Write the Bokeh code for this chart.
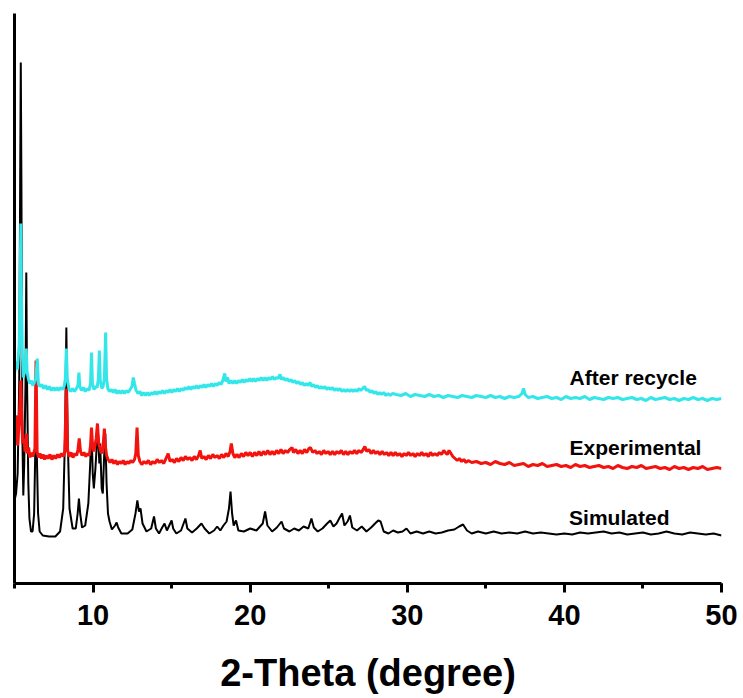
from bokeh.plotting import figure
from bokeh.models import SingleIntervalTicker, FixedTicker, Range1d, ColumnDataSource
from bokeh.core.properties import value
from bokeh.embed import file_html
from bokeh.resources import INLINE

# ---------------- data (2-theta in degrees, intensity in arbitrary units, offset per trace) ----------------
sim_x = [5.0, 5.1, 5.2, 5.3, 5.36, 5.4, 5.44, 5.5, 5.56, 5.62, 5.7, 5.75, 5.8, 5.88, 5.95, 6.05, 6.15, 6.25,
         6.32, 6.37, 6.42, 6.5, 6.6, 6.8, 7.2, 7.6, 7.9, 8.1, 8.22, 8.3, 8.38, 8.5, 8.7, 8.9, 9.02, 9.1, 9.18,
         9.3, 9.5, 9.7, 9.82, 9.9, 9.98, 10.05, 10.15, 10.3, 10.4, 10.45, 10.55, 10.62, 10.7, 10.78, 10.86,
         10.95, 11.05, 11.2, 11.4, 11.5, 11.6, 11.8, 12.2, 12.5, 12.7, 12.82, 12.92, 13.02, 13.15, 13.4, 13.7,
         13.88, 14.0, 14.2, 14.4, 14.55, 14.7, 14.85, 15.0, 15.1, 15.3, 15.6, 15.88, 16.0, 16.3, 16.6, 16.9,
         17.1, 17.4, 17.7, 17.9, 18.1, 18.3, 18.5, 18.65, 18.75, 18.85, 18.95, 19.1, 19.25, 19.6, 20.0, 20.4,
         20.8, 20.95, 21.1, 21.4, 21.7, 22.0, 22.15, 22.5, 22.8, 23.1, 23.4, 23.7, 23.9, 24.05, 24.3, 24.6,
         24.9, 25.1, 25.3, 25.5, 25.7, 25.85, 26.0, 26.2, 26.35, 26.5, 26.8, 27.1, 27.4, 27.7, 27.95, 28.15,
         28.3, 28.5, 28.8, 29.1, 29.4, 29.7, 29.95, 30.2, 30.6, 31.0, 31.4, 31.8, 32.2, 32.6, 33.0, 33.3,
         33.55, 33.8, 34.1, 34.5, 35.0, 35.5, 36.0, 36.5, 37.0, 37.5, 38.0, 38.5, 39.0, 39.5, 40.0, 40.5,
         41.0, 41.5, 42.0, 42.5, 43.0, 43.5, 44.0, 44.5, 45.0, 45.5, 46.0, 46.5, 47.0, 47.5, 48.0, 48.5,
         49.0, 49.5, 50.0]
sim_y = [83, 90, 110, 200, 400, 521, 400, 150, 88, 120, 200, 311, 200, 100, 65, 52, 52, 70,
         130, 213, 130, 70, 52, 48, 47, 47, 52, 75, 150, 256, 150, 75, 55, 55, 70, 85, 70,
         56, 58, 80, 120, 155, 110, 95, 115, 156, 120, 140, 95, 90, 125, 150, 100,
         70, 62, 54, 58, 61, 56, 50, 50, 54, 70, 83, 72, 75, 60, 52, 55,
         67, 55, 50, 56, 60, 53, 58, 63, 55, 50, 53, 65, 55, 51, 55, 60,
         55, 50, 53, 57, 53, 58, 62, 75, 92, 70, 58, 63, 53, 52, 55, 53,
         60, 72, 58, 52, 56, 62, 55, 52, 55, 53, 57, 55, 65, 56, 52, 55,
         60, 63, 57, 60, 66, 70, 58, 62, 68, 56, 53, 57, 52, 56, 60, 63,
         62, 52, 50, 53, 51, 52, 55, 50, 52, 50, 52, 50, 51, 53, 54, 57,
         59, 53, 50, 52, 50, 52, 50, 51, 50, 52, 50, 51, 50, 49, 50, 49,
         51, 50, 51, 52, 50, 51, 49, 50, 51, 49, 50, 52, 50, 49, 51, 50,
         49, 50, 48]

exp_x = [5.0, 5.08, 5.15, 5.2, 5.27, 5.33, 5.4, 5.46, 5.52, 5.6, 5.67, 5.75, 5.82, 5.9, 5.98, 6.06, 6.14, 6.22,
         6.3, 6.37, 6.44, 6.52, 6.62, 6.72, 6.82, 6.92, 7.02, 7.14, 7.26, 7.38, 7.5, 7.62, 7.74, 7.86, 7.98,
         8.1, 8.2, 8.3, 8.38, 8.48, 8.6, 8.72, 8.84, 8.96, 9.04, 9.12, 9.2, 9.3, 9.42, 9.54, 9.66, 9.76, 9.84,
         9.9, 9.96, 10.04, 10.12, 10.2, 10.28, 10.36, 10.44, 10.52, 10.6, 10.66, 10.72, 10.78, 10.86, 10.96,
         11.08, 11.2, 11.32, 11.44, 11.56, 11.68, 11.8, 11.92, 12.04, 12.16, 12.28, 12.4, 12.52, 12.64, 12.72,
         12.8, 12.88, 12.98, 13.1, 13.24, 13.38, 13.52, 13.66, 13.8, 13.94, 14.08, 14.22, 14.36, 14.5, 14.64,
         14.78, 14.9, 15.04, 15.18, 15.32, 15.46, 15.6, 15.74, 15.88, 16.02, 16.16, 16.3, 16.44, 16.58, 16.72,
         16.82, 16.92, 17.06, 17.2, 17.34, 17.48, 17.62, 17.76, 17.9, 18.04, 18.18, 18.32, 18.46, 18.6, 18.72,
         18.8, 18.9, 19.02, 19.16, 19.3, 19.44, 19.58, 19.72, 19.86, 20.0, 20.14, 20.28, 20.42, 20.56, 20.7,
         20.84, 20.98, 21.12, 21.26, 21.4, 21.54, 21.68, 21.82, 21.96, 22.1, 22.24, 22.38, 22.52, 22.66, 22.76,
         22.9, 23.04, 23.18, 23.32, 23.46, 23.6, 23.74, 23.84, 23.98, 24.12, 24.26, 24.4, 24.54, 24.68, 24.82,
         24.96, 25.1, 25.24, 25.38, 25.52, 25.66, 25.8, 25.94, 26.08, 26.22, 26.36, 26.5, 26.64, 26.78, 26.92,
         27.06, 27.2, 27.3, 27.42, 27.56, 27.7, 27.84, 27.98, 28.12, 28.26, 28.4, 28.54, 28.68, 28.82, 28.96,
         29.1, 29.24, 29.38, 29.52, 29.66, 29.8, 29.94, 30.08, 30.22, 30.36, 30.5, 30.64, 30.78, 30.92, 31.06,
         31.2, 31.34, 31.48, 31.62, 31.76, 31.9, 32.04, 32.18, 32.32, 32.42, 32.54, 32.66, 32.78, 32.9, 33.04,
         33.18, 33.32, 33.46, 33.6, 33.74, 33.88, 34.1, 34.4, 34.7, 35.0, 35.3, 35.6, 35.9, 36.2, 36.5, 36.8,
         37.1, 37.4, 37.7, 38.0, 38.3, 38.6, 38.9, 39.2, 39.5, 39.8, 40.1, 40.4, 40.7, 41.0, 41.3, 41.6, 41.9,
         42.2, 42.5, 42.8, 43.1, 43.4, 43.7, 44.0, 44.3, 44.6, 44.9, 45.2, 45.5, 45.8, 46.1, 46.4, 46.7, 47.0,
         47.3, 47.6, 47.9, 48.2, 48.5, 48.8, 49.1, 49.4, 49.7, 50.0]
exp_y = [150, 160, 168, 138, 155, 175, 203, 165, 140, 145, 132, 150, 130, 136, 126, 131, 127, 130,
         135, 223, 132, 126, 130, 125, 129, 124, 128, 125, 129, 124, 128, 125, 129, 126, 130,
         127, 132, 195, 133, 127, 131, 126, 130, 128, 134, 145, 132, 128, 131, 127, 130, 128, 138,
         156, 140, 132, 138, 145, 160, 140, 135, 130, 134, 142, 155, 138, 128, 124,
         121, 124, 120, 123, 119, 122, 120, 123, 119, 122, 120, 123, 121, 124, 130,
         156, 128, 122, 119, 122, 120, 123, 119, 122, 120, 124, 121, 123, 120, 125,
         130, 122, 124, 121, 125, 122, 126, 123, 127, 124, 126, 123, 127, 124, 128,
         133, 125, 127, 124, 128, 125, 129, 126, 128, 125, 129, 126, 130, 127, 132,
         140, 130, 126, 129, 126, 130, 127, 131, 128, 131, 127, 131, 128, 132, 128,
         132, 129, 133, 129, 132, 129, 133, 130, 134, 130, 133, 131, 134, 136, 131,
         134, 130, 133, 130, 134, 131, 135, 136, 131, 133, 130, 132, 129, 133, 130,
         132, 129, 132, 129, 132, 130, 133, 129, 132, 129, 132, 130, 133, 130, 133,
         131, 134, 137, 132, 134, 130, 133, 130, 132, 129, 132, 129, 131, 128, 131,
         128, 131, 128, 130, 127, 130, 128, 131, 128, 130, 127, 130, 128, 131, 128,
         130, 127, 131, 128, 130, 128, 131, 129, 133, 131, 129, 133, 130, 127, 125,
         123, 125, 122, 124, 121, 123, 121, 122, 120, 121, 119, 122, 120, 119, 121, 118,
         119, 120, 117, 119, 118, 120, 117, 118, 119, 117, 118, 116, 119, 117, 118, 116, 117,
         118, 116, 117, 115, 118, 116, 115, 117, 116, 118, 115, 116, 117, 115, 116, 114, 117,
         115, 116, 114, 116, 115, 117, 114, 115, 116, 115]

rec_x = [5.0, 5.06, 5.12, 5.18, 5.24, 5.3, 5.36, 5.4, 5.44, 5.5, 5.56, 5.62, 5.68, 5.75, 5.8, 5.88, 5.96, 6.06,
         6.16, 6.26, 6.36, 6.45, 6.52, 6.62, 6.74, 6.86, 6.98, 7.1, 7.22, 7.34, 7.46, 7.58, 7.7, 7.82, 7.94,
         8.06, 8.16, 8.24, 8.3, 8.36, 8.46, 8.58, 8.7, 8.82, 8.94, 9.04, 9.1, 9.16, 9.26, 9.38, 9.5, 9.62, 9.74,
         9.84, 9.9, 9.96, 10.06, 10.16, 10.26, 10.34, 10.4, 10.46, 10.56, 10.64, 10.72, 10.8, 10.86, 10.94,
         11.04, 11.16, 11.28, 11.4, 11.52, 11.64, 11.76, 11.88, 12.0, 12.12, 12.24, 12.36, 12.48, 12.56, 12.64,
         12.74, 12.86, 12.98, 13.1, 13.22, 13.34, 13.46, 13.58, 13.7, 13.82, 13.94, 14.06, 14.18, 14.3, 14.42,
         14.54, 14.66, 14.78, 14.9, 15.02, 15.14, 15.26, 15.38, 15.5, 15.62, 15.74, 15.86, 15.98, 16.1, 16.22,
         16.34, 16.46, 16.58, 16.7, 16.82, 16.94, 17.06, 17.18, 17.3, 17.42, 17.54, 17.66, 17.78, 17.9, 18.02,
         18.14, 18.26, 18.38, 18.46, 18.56, 18.66, 18.78, 18.9, 19.02, 19.14, 19.26, 19.38, 19.5, 19.62, 19.74,
         19.86, 19.98, 20.1, 20.22, 20.34, 20.46, 20.58, 20.7, 20.82, 20.94, 21.06, 21.18, 21.3, 21.42, 21.54,
         21.66, 21.78, 21.9, 22.0, 22.12, 22.24, 22.36, 22.48, 22.6, 22.72, 22.84, 22.96, 23.08, 23.2, 23.32,
         23.44, 23.56, 23.68, 23.8, 23.92, 24.04, 24.16, 24.28, 24.4, 24.52, 24.64, 24.76, 24.88, 25.0, 25.12,
         25.24, 25.36, 25.48, 25.6, 25.72, 25.84, 25.96, 26.08, 26.2, 26.32, 26.44, 26.56, 26.68, 26.8, 26.92,
         27.04, 27.16, 27.28, 27.4, 27.52, 27.64, 27.76, 27.88, 28.0, 28.12, 28.24, 28.36, 28.5, 28.64, 28.78,
         28.92, 29.06, 29.3, 29.6, 29.9, 30.2, 30.5, 30.8, 31.1, 31.4, 31.7, 32.0, 32.3, 32.6, 32.9, 33.2, 33.5,
         33.8, 34.1, 34.4, 34.7, 35.0, 35.3, 35.6, 35.9, 36.2, 36.5, 36.8, 37.1, 37.3, 37.4, 37.5, 37.7, 38.0,
         38.3, 38.6, 38.9, 39.2, 39.5, 39.8, 40.1, 40.4, 40.7, 41.0, 41.3, 41.6, 41.9, 42.2, 42.5, 42.8, 43.1,
         43.4, 43.7, 44.0, 44.3, 44.6, 44.9, 45.2, 45.5, 45.8, 46.1, 46.4, 46.7, 47.0, 47.3, 47.6, 47.9, 48.2,
         48.5, 48.8, 49.1, 49.4, 49.7, 50.0]
rec_y = [210, 216, 222, 214, 226, 240, 300, 360, 290, 230, 206, 210, 215, 235, 212, 205, 200, 203,
         198, 201, 205, 225, 200, 197, 199, 195, 198, 194, 197, 193, 196, 193, 196, 193, 196,
         194, 197, 205, 235, 205, 195, 192, 195, 192, 195, 198, 211, 197, 193, 196, 192, 195, 193,
         200, 231, 200, 194, 197, 196, 205, 233, 203, 195, 197, 205, 251, 205, 195,
         192, 194, 191, 194, 190, 193, 190, 193, 190, 193, 191, 194, 197, 206, 200,
         193, 190, 192, 188, 191, 188, 191, 188, 191, 189, 192, 189, 192, 190, 193,
         190, 193, 191, 194, 191, 194, 192, 195, 192, 195, 193, 196, 194, 197, 194,
         197, 195, 198, 195, 198, 196, 199, 196, 199, 197, 200, 197, 200, 198, 201,
         199, 203, 210, 202, 206, 200, 203, 200, 203, 200, 203, 201, 204, 201, 204,
         202, 205, 202, 205, 202, 205, 203, 206, 203, 206, 203, 206, 204, 207, 204,
         206, 205, 209, 204, 206, 203, 205, 202, 204, 201, 203, 200, 202, 199, 201,
         198, 200, 198, 201, 197, 199, 196, 198, 195, 197, 195, 197, 194, 196, 194,
         196, 193, 195, 193, 195, 192, 194, 192, 194, 192, 194, 192, 194, 192, 195,
         193, 195, 197, 193, 194, 191, 193, 190, 192, 189, 191, 189, 191, 188, 190,
         188, 190, 189, 188, 190, 187, 189, 188, 187, 189, 187, 188, 186, 188, 187, 186, 188,
         187, 186, 188, 187, 186, 188, 186, 187, 185, 187, 186, 187, 190, 195, 189, 186, 187,
         185, 186, 187, 185, 186, 184, 187, 185, 186, 185, 187, 184, 186, 185, 184, 186, 185,
         186, 184, 185, 186, 184, 185, 183, 186, 184, 185, 186, 184, 185, 183, 185, 184, 186,
         184, 185, 183, 185, 184, 185]

label_text = ["After recycle", "Experimental", "Simulated"]
x_ticks_interval = 10

# ---------------- figure ----------------
p = figure(width=743, height=698, output_backend="svg", toolbar_location=None,
           x_range=Range1d(5, 50), y_range=Range1d(0, 570),
           min_border_left=14, min_border_right=22, min_border_top=13, min_border_bottom=115)
p.outline_line_color = None
p.grid.visible = False
p.background_fill_color = "white"
p.border_fill_color = "white"

p.line(sim_x, sim_y, line_color="black", line_width=2)
p.line(exp_x, exp_y, line_color="#F2130F", line_width=3)
p.line(rec_x, rec_y, line_color="#33E6EA", line_width=3)

src = ColumnDataSource(dict(x=[40.33, 40.33, 40.3], y=[206, 136, 66], t=label_text))
p.text(x="x", y="y", text="t", source=src, text_font=value("Liberation Sans"),
       text_font_style="bold", text_font_size="21px", text_color="black",
       text_align="left", text_baseline="alphabetic")

# x axis
xa = p.xaxis[0]
xa.ticker = SingleIntervalTicker(interval=x_ticks_interval, num_minor_ticks=2)
xa.axis_line_width = 3
xa.axis_line_color = "black"
xa.major_tick_line_width = 3
xa.major_tick_out = 9
xa.major_tick_in = 0
xa.minor_tick_line_width = 3
xa.minor_tick_out = 5
xa.minor_tick_in = 0
xa.major_label_text_font = "Liberation Sans"
xa.major_label_text_font_style = "bold"
xa.major_label_text_font_size = "29px"
xa.major_label_text_color = "black"
xa.major_label_standoff = 12
xa.axis_label = "2-Theta (degree)"
xa.axis_label_text_font = "Liberation Sans"
xa.axis_label_text_font_style = "bold"
xa.axis_label_text_font_size = "38px"
xa.axis_label_text_color = "black"
xa.axis_label_standoff = 24

# y axis: only the spine
ya = p.yaxis[0]
ya.ticker = FixedTicker(ticks=[])
ya.axis_line_width = 3
ya.axis_line_color = "black"
ya.major_tick_out = 0
ya.major_tick_in = 0
ya.minor_tick_out = 0
ya.minor_tick_in = 0
ya.major_label_text_font_size = "0px"
ya.major_label_standoff = 0

open("out.html", "w").write(file_html(p, INLINE))
